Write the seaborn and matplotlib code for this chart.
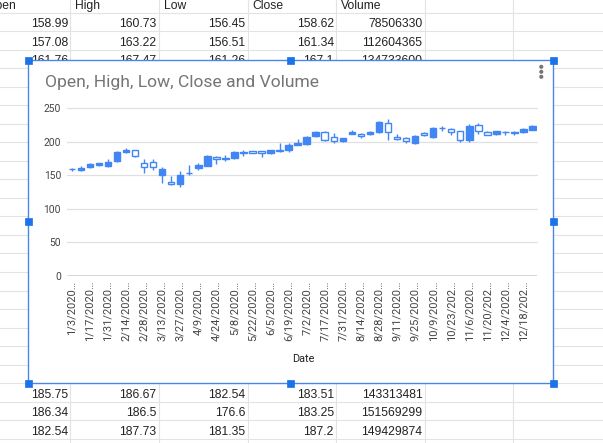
import matplotlib
matplotlib.use("Agg")
import matplotlib.pyplot as plt
from matplotlib.patches import Rectangle, Circle
import seaborn as sns
import numpy as np

# ---------------- data ----------------
dates = ["1/3/2020", "1/10/2020", "1/17/2020", "1/24/2020", "1/31/2020", "2/7/2020",
         "2/14/2020", "2/21/2020", "2/28/2020", "3/6/2020", "3/13/2020", "3/20/2020",
         "3/27/2020", "4/3/2020", "4/9/2020", "4/17/2020", "4/24/2020", "5/1/2020",
         "5/8/2020", "5/15/2020", "5/22/2020", "5/29/2020", "6/5/2020", "6/12/2020",
         "6/19/2020", "6/26/2020", "7/2/2020", "7/10/2020", "7/17/2020", "7/24/2020",
         "7/31/2020", "8/7/2020", "8/14/2020", "8/21/2020", "8/28/2020", "9/4/2020",
         "9/11/2020", "9/18/2020", "9/25/2020", "10/2/2020", "10/9/2020", "10/16/2020",
         "10/23/2020", "10/30/2020", "11/6/2020", "11/13/2020", "11/20/2020", "11/27/2020",
         "12/4/2020", "12/11/2020", "12/18/2020", "12/24/2020"]
opens = [158.99, 157.08, 161.76, 165.1, 163.78, 170.43, 184.2, 187.2, 168.5, 169.0, 151.0, 140.0,
         137.0, 152.6, 160.3, 164.4, 177.8, 176.0, 175.8, 184.5, 185.75, 186.34, 182.54, 186.0,
         187.0, 194.8, 196.0, 209.0, 215.0, 206.5, 200.8, 212.0, 211.5, 211.5, 214.0, 227.5,
         207.5, 205.5, 197.2, 213.5, 206.5, 220.0, 219.0, 215.5, 202.5, 225.0, 215.0, 211.0,
         214.0, 214.5, 214.2, 218.0]
highs = [160.73, 163.22, 167.47, 168.7, 174.05, 185.85, 190.0, 187.7, 174.5, 174.5, 161.9, 148.5,
         156.7, 164.8, 168.5, 180.0, 178.5, 179.5, 185.9, 187.0, 186.67, 186.5, 187.73, 198.5,
         197.2, 203.9, 208.6, 216.0, 216.5, 213.0, 206.0, 217.5, 212.5, 216.0, 231.2, 232.9,
         211.0, 207.5, 209.5, 214.5, 221.0, 223.5, 220.5, 216.0, 226.0, 227.5, 216.5, 216.5,
         216.5, 216.5, 219.5, 224.0]
lows = [156.45, 156.51, 161.26, 164.2, 161.5, 170.1, 182.4, 177.6, 153.0, 157.5, 139.0, 135.0,
        132.5, 150.0, 157.6, 163.0, 166.5, 170.5, 173.8, 179.0, 182.54, 176.6, 181.35, 185.0,
        185.0, 194.2, 195.2, 207.5, 201.0, 197.5, 199.5, 211.5, 205.5, 210.5, 212.5, 202.0,
        203.0, 197.5, 196.0, 208.0, 206.0, 216.5, 210.5, 199.6, 200.1, 211.0, 209.5, 209.5,
        210.0, 209.5, 212.5, 217.0]
closes = [158.62, 161.34, 167.1, 167.6, 170.23, 183.89, 187.6, 178.6, 162.0, 162.0, 158.8, 137.4,
          149.7, 153.8, 165.1, 178.6, 174.6, 174.6, 184.7, 183.2, 183.51, 183.25, 187.2, 187.7,
          195.2, 198.0, 206.3, 214.5, 202.9, 201.3, 205.0, 214.0, 209.0, 214.0, 228.9, 214.25,
          204.0, 200.4, 207.8, 210.3, 220.0, 219.7, 214.9, 202.5, 223.7, 216.5, 210.4, 215.2,
          214.4, 213.3, 218.6, 222.8]
y_ticks = [0, 50, 100, 150, 200, 250]

# spreadsheet cells visible around the chart
header = ["Open", "High", "Low", "Close", "Volume"]
top_rows = [["158.99", "160.73", "156.45", "158.62", "78506330"],
            ["157.08", "163.22", "156.51", "161.34", "112604365"],
            ["161.76", "167.47", "161.26", "167.1", "134733600"]]
bottom_rows = [["185.75", "186.67", "182.54", "183.51", "143313481"],
               ["186.34", "186.5", "176.6", "183.25", "151569299"],
               ["182.54", "187.73", "181.35", "187.2", "149429874"]]

title = "Open, High, Low, Close and Volume"
x_title = "Date"

# ---------------- style ----------------
sns.set_theme(style="white")
plt.rcParams['font.family'] = ['Roboto', 'DejaVu Sans']

W, H = 603, 443
fig = plt.figure(figsize=(W / 100, H / 100), dpi=100)

bg = fig.add_axes([0, 0, 1, 1])
bg.set_xlim(0, W)
bg.set_ylim(H, 0)
bg.axis("off")

grid_c = "#e2e3e3"
row_h = 18.52
row0 = 12.7
for k in range(-1, 25):
    y = row0 + row_h * k
    bg.plot([0, W], [y, y], color=grid_c, lw=0.8, zorder=1)
col_edges = [70.4, 159.0, 247.6, 336.2, 424.8, 513.4]
for x in col_edges:
    bg.plot([x, x], [0, H], color=grid_c, lw=0.8, zorder=1)

cell_font = dict(family=['Liberation Sans', 'DejaVu Sans'], fontsize=8.7, color="#222222")
col_left = [-18.2] + col_edges[:4]
for j, h in enumerate(header):
    bg.text(col_left[j] + 4.6, row0 - 3.7, h, ha="left", va="baseline", zorder=2, **cell_font)
for i, row in enumerate(top_rows):
    yb = row0 + row_h * (i + 1) - 4.0
    for j, v in enumerate(row):
        bg.text(col_edges[j] - 2.3, yb, v, ha="right", va="baseline", zorder=2, **cell_font)
for i, row in enumerate(bottom_rows):
    yb = row0 + row_h * (21 + i) - 4.0
    for j, v in enumerate(row):
        bg.text(col_edges[j] - 2.3, yb, v, ha="right", va="baseline", zorder=2, **cell_font)

# chart box
cx0, cy0, cx1, cy1 = 28, 60, 553, 383
sel = "#1a73e8"
bg.add_patch(Rectangle((cx0, cy0), cx1 - cx0, cy1 - cy0, facecolor="white",
                       edgecolor="#4a86e8", lw=1.0, zorder=10))
for hx, hy in [(cx0, cy0), ((cx0 + cx1) / 2, cy0), (cx1, cy0), (cx0, (cy0 + cy1) / 2),
               (cx1, (cy0 + cy1) / 2), (cx0, cy1), ((cx0 + cx1) / 2, cy1), (cx1, cy1)]:
    bg.add_patch(Rectangle((hx - 3.5, hy - 3.5), 7, 7, facecolor=sel, edgecolor=sel,
                           lw=0.5, zorder=12))
bg.text(45, 87, title, ha="left", va="baseline", fontsize=12.6, color="#757575", zorder=11)
for dy in (66.8, 71.8, 76.8):
    bg.add_patch(Circle((541.3, dy), 1.35, color="#757575", zorder=11))
bg.text(303, 358.5, x_title, ha="center", va="center", fontsize=7.8, color="#222222", zorder=11)

# ---------------- candlestick plot ----------------
px0, px1, py_top, py_bot = 67.3, 537.0, 108.0, 276.0
ax = fig.add_axes([px0 / W, 1 - py_bot / H, (px1 - px0) / W, (py_bot - py_top) / H])
ax.set_zorder(20)
ax.patch.set_alpha(0)

blue = "#4285f4"
n = len(dates)
xs = np.arange(n)
o = np.array(opens); c = np.array(closes)
rising = c >= o
ax.vlines(xs, lows, highs, color=blue, lw=1.0, zorder=3)
bottoms = np.minimum(o, c)
heights = np.abs(c - o)
face = [blue if r else "white" for r in rising]
ax.bar(xs, heights, bottom=bottoms, width=0.72, color=face, edgecolor=blue,
       linewidth=1.0, zorder=4)

ax.set_xlim(-0.5, n - 0.5)
ax.set_ylim(0, 250)
ax.set_yticks(y_ticks)
ax.set_yticklabels([str(t) for t in y_ticks], fontsize=7.4, color="#444444")
for t in y_ticks[1:]:
    ax.axhline(t, color="#e0e0e0", lw=0.9, zorder=1, clip_on=False)
ax.axhline(0, color="#333333", lw=1.0, zorder=5)

def short(s):
    return s[:9] + "…"

tick_idx = xs[::2]
ax.set_xticks(tick_idx)
ax.set_xticklabels([short(dates[i]) for i in tick_idx], rotation=90, fontsize=8.0,
                   color="#444444")
ax.tick_params(axis="both", length=0)
ax.tick_params(axis="y", pad=4.5)
ax.tick_params(axis="x", pad=3.5)
sns.despine(ax=ax, left=True, bottom=True, top=True, right=True)
ax.grid(False)

fig.savefig("out.png", dpi=100)
